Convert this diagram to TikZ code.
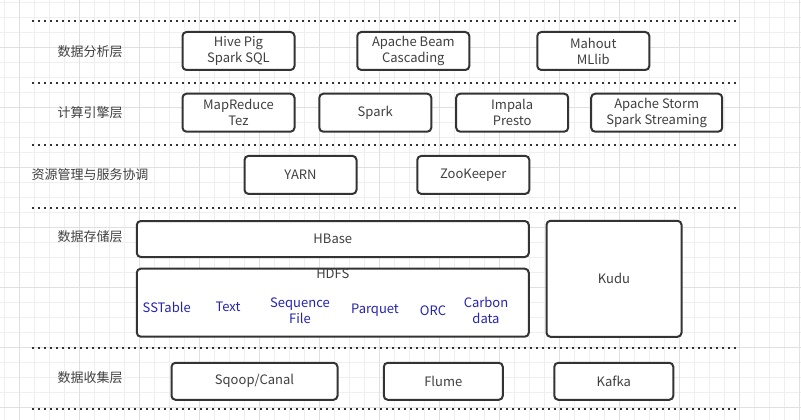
\documentclass[tikz,border=0pt]{standalone}
\usepackage{fontspec}
\setmainfont{Noto Sans CJK SC}
\usetikzlibrary{positioning}
\definecolor{gridminor}{HTML}{EFEFEF}
\definecolor{gridmajor}{HTML}{E0E0E0}
\definecolor{boxline}{HTML}{333333}
\definecolor{boxtext}{HTML}{404040}
\definecolor{fmtblue}{HTML}{2424B0}

\begin{document}
\begin{tikzpicture}[
  x=1pt, y=-1pt,
  font=\fontsize{13}{16}\selectfont,
  layer/.style={text=boxtext, inner sep=0pt},
  tool/.style={draw=boxline, line width=2pt, rounded corners=4pt, fill=white,
    align=center, text=boxtext, inner sep=0pt, minimum width=112pt,
    minimum height=38pt},
  fmt/.style={text=fmtblue, align=center, inner sep=0pt},
  sep/.style={boxline, line width=2pt, dash pattern=on 2pt off 4pt}
]
\useasboundingbox (0,0) rectangle (801,420);
\fill[white] (0,0) rectangle (801,420);
% background grid
\foreach \x in {4.3,19.3,...,800}
  \draw[gridminor, line width=1pt] (\x,0) -- (\x,420);
\foreach \y in {2.3,17.3,...,420}
  \draw[gridminor, line width=1pt] (0,\y) -- (801,\y);
\foreach \x in {19.3,79.3,...,800}
  \draw[gridmajor, line width=1pt] (\x,0) -- (\x,420);
\foreach \y in {47.3,107.3,...,420}
  \draw[gridmajor, line width=1pt] (0,\y) -- (801,\y);

% layer separators
\foreach \y in {20.7,82.7,145.3,207.7,347.7,409.3}
  \draw[sep] (32,\y) -- (739,\y);

% layer names
\node[layer] (l1) at (90,51.7) {数据分析层};
\node[layer] (l2) at (90,113) {计算引擎层};
\node[layer] (l3) at (90,175) {资源管理与服务协调};
\node[layer] (l4) at (90,236.7) {数据存储层};
\node[layer] (l5) at (90,378) {数据收集层};

% analysis
\node[tool] (hive) at (238.5,51) {Hive Pig\\Spark SQL};
\node[tool] (beam) at (413.3,51) {Apache Beam\\Cascading};
\node[tool] (mahout) at (593.3,51) {Mahout\\MLlib};

% engines
\node[tool] (mapred) at (238.5,112.7) {MapReduce\\Tez};
\node[tool] (spark) at (375.3,112.7) {Spark};
\node[tool] (impala) at (512.2,112.7) {Impala\\Presto};
\node[tool, minimum width=131pt] (storm) at (656.7,112.7) {Apache Storm\\Spark Streaming};

% resources
\node[tool] (yarn) at (300.5,174.9) {YARN};
\node[tool] (zk) at (473.3,174.9) {ZooKeeper};

% storage
\node[tool, minimum width=392pt, minimum height=36pt] (hbase) at (332.8,239) {HBase};
\node[tool, minimum width=392pt, minimum height=68pt] (hdfs) at (332.8,302.7) {};
\node[layer, below=1pt of hdfs.north] (hdfsname) {HDFS};
\node[tool, minimum width=135pt, minimum height=116pt] (kudu) at (614,278.8) {Kudu};
\node[fmt] (sst) at (166.7,307) {SSTable};
\node[fmt] (txt) at (228,307) {Text};
\node[fmt] (seq) at (300,310.5) {Sequence\\File};
\node[fmt] (parq) at (375,310) {Parquet};
\node[fmt] (orc) at (433,310.5) {ORC};
\node[fmt] (carbon) at (486,310.5) {Carbon\\data};

% collection
\node[tool, minimum width=166pt, minimum height=37pt] (sqoop) at (254.5,381.3) {Sqoop/Canal};
\node[tool, minimum width=119pt, minimum height=37pt] (flume) at (443.3,381.3) {Flume};
\node[tool, minimum width=119pt, minimum height=37pt] (kafka) at (613.8,381.3) {Kafka};
\end{tikzpicture}
\end{document}
